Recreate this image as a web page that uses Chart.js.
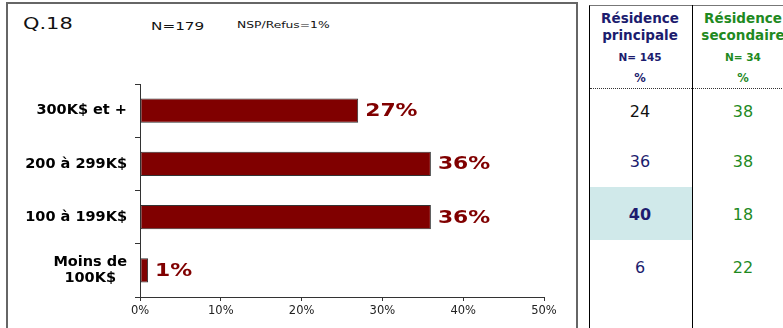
<!DOCTYPE html>
<html>
<head>
<meta charset="utf-8">
<script src="https://cdn.jsdelivr.net/npm/chart.js@4.4.0/dist/chart.umd.min.js"></script>
<style>
  body { margin: 0; background: #fff; font-family: "DejaVu Sans", sans-serif; }
  #page { position: relative; width: 783px; height: 328px; overflow: hidden; }
  #box { position: absolute; left: 6px; top: 2px; width: 568px; height: 340px; border: 2px solid #666; }
  .t { position: absolute; white-space: nowrap; transform-origin: left top; line-height: 1; }
  #chartWrap { position: absolute; left: 8px; top: 60px; width: 565px; height: 268px; }
  #tbl { position: absolute; left: 589px; top: 5px; width: 220px; height: 340px; border-left: 1px solid #000; border-top: 1px solid #777; }
  #divider { position: absolute; left: 692px; top: 5px; width: 1px; height: 330px; background: #000; }
  #dots { position: absolute; left: 590px; top: 88px; width: 200px; border-top: 1px dotted #333; }
  #hl { position: absolute; left: 590px; top: 187px; width: 102px; height: 53px; background: #d0e9ea; }
  .c { position: absolute; text-align: center; white-space: nowrap; line-height: 1; }
</style>
</head>
<body>
<div id="page">
  <div id="box"></div>
  <div class="t" style="left:23px;top:17px;font-size:15.5px;color:#111;transform:scaleX(1.35)">Q.18</div>
  <div class="t" style="left:151px;top:21px;font-size:10.5px;color:#111;transform:scaleX(1.45)">N=179</div>
  <div class="t" style="left:237px;top:21px;font-size:8.5px;color:#111;transform:scaleX(1.45)">NSP/Refus=1%</div>
  <div id="chartWrap"><canvas id="chart"></canvas></div>
  <div id="tbl"></div>
  <div id="hl"></div>
  <div id="divider"></div>
  <div id="dots"></div>
  <div id="cells"></div>
</div>
<script>
// chart data
const categories = [['300K$ et +'], ['200 à 299K$'], ['100 à 199K$'], ['Moins de', '100K$']];
const totalPct = [27, 36, 36, 1];
const xTicks = [0, 10, 20, 30, 40, 50];

// side table
const colHeads = [['Résidence', 'principale'], ['Résidence', 'secondaire']];
const colN = ['N= 145', 'N= 34'];
const principale = [24, 36, 40, 6];
const secondaire = [38, 38, 18, 22];

const navy = '#1c1c6e';
const green = '#1f8a1f';
const barRed = '#800000';

// custom category labels (multi-line centred, like the original)
const catLabels = {
    id: 'catLabels',
    afterDraw(chart) {
        const ctx = chart.ctx;
        const y = chart.scales.y;
        ctx.save();
        ctx.font = 'bold 14.5px "DejaVu Sans"';
        ctx.fillStyle = '#000';
        ctx.textBaseline = 'middle';
        ctx.textAlign = 'center';
        const right = y.right - 13;
        categories.forEach((lines, i) => {
            const cy = y.getPixelForValue(i);
            const w = Math.max(...lines.map(l => ctx.measureText(l).width));
            const cx = right - w / 2;
            const lh = 16;
            lines.forEach((l, j) => {
                ctx.fillText(l, cx, cy + (j - (lines.length - 1) / 2) * lh);
            });
        });
        ctx.restore();
    }
};

// value labels at the bar ends
const valueLabels = {
    id: 'valueLabels',
    afterDatasetsDraw(chart) {
        const ctx = chart.ctx;
        const meta = chart.getDatasetMeta(0);
        ctx.save();
        ctx.font = 'bold 17.5px "DejaVu Sans"';
        ctx.fillStyle = barRed;
        ctx.textBaseline = 'middle';
        meta.data.forEach((bar, i) => {
            ctx.save();
            ctx.translate(bar.x + 7, bar.y + 1);
            ctx.scale(1.25, 1);
            ctx.fillText(totalPct[i] + '%', 0, 0);
            ctx.restore();
        });
        ctx.restore();
    }
};

new Chart(document.getElementById('chart'), {
    type: 'bar',
    data: {
        labels: categories,
        datasets: [{
            data: totalPct,
            backgroundColor: barRed,
            borderColor: '#333',
            borderWidth: 1,
            borderSkipped: false,
            categoryPercentage: 1,
            barPercentage: 0.46
        }]
    },
    options: {
        indexAxis: 'y',
        responsive: true,
        maintainAspectRatio: false,
        animation: false,
        layout: { padding: { top: 24, right: 29, bottom: 0, left: 0 } },
        plugins: { legend: { display: false }, tooltip: { enabled: false } },
        scales: {
            x: {
                min: 0,
                max: 50,
                afterBuildTicks: axis => { axis.ticks = xTicks.map(v => ({ value: v })); },
                afterFit: axis => { axis.height = 31; },
                grid: { drawOnChartArea: false, tickLength: 4, color: '#333' },
                border: { color: '#333' },
                ticks: {
                    color: '#222',
                    padding: 3,
                    font: { family: 'DejaVu Sans', size: 11.5 },
                    callback: v => v + '%'
                }
            },
            y: {
                afterFit: axis => { axis.width = 132; },
                grid: { drawOnChartArea: false, tickLength: 5, color: '#333', offset: true },
                border: { color: '#333' },
                ticks: { display: false }
            }
        }
    },
    plugins: [catLabels, valueLabels]
});

// build the side table
const cells = document.getElementById('cells');
function addText(txt, cx, top, size, color, bold) {
    const d = document.createElement('div');
    d.className = 'c';
    d.textContent = txt;
    d.style.left = (cx - 60) + 'px';
    d.style.width = '120px';
    d.style.top = top + 'px';
    d.style.fontSize = size + 'px';
    d.style.color = color;
    if (bold) d.style.fontWeight = 'bold';
    cells.appendChild(d);
}
const colX = [640, 743];
const colColor = [navy, green];
const rowY = [112, 162, 215, 268];
colHeads.forEach((lines, c) => {
    addText(lines[0], colX[c], 12, 13.5, colColor[c], true);
    addText(lines[1], colX[c], 29, 13.5, colColor[c], true);
    addText(colN[c], colX[c], 52, 10.5, colColor[c], true);
    addText('%', colX[c], 73, 11.5, colColor[c], true);
});
principale.forEach((v, i) => {
    const col = i === 0 ? '#111' : navy;
    addText(String(v), colX[0], rowY[i] - 8, 16, col, i === 2);
});
secondaire.forEach((v, i) => {
    addText(String(v), colX[1], rowY[i] - 8, 16, green, false);
});
</script>
</body>
</html>
